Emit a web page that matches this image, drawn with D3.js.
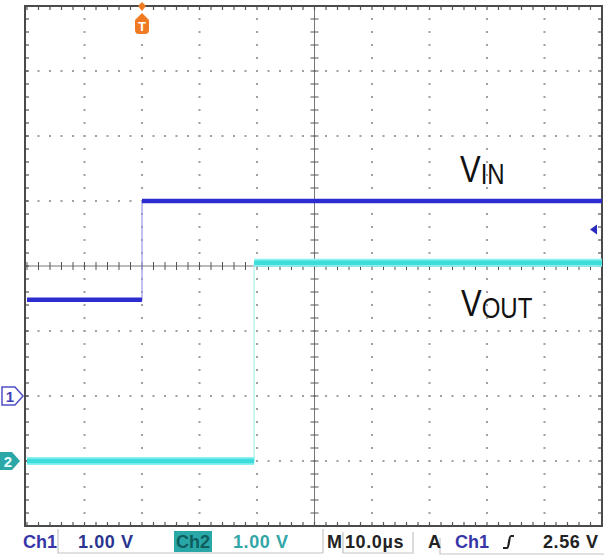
<!DOCTYPE html>
<html>
<head>
<meta charset="utf-8">
<script src="https://cdn.jsdelivr.net/npm/d3@7"></script>
<style>
  body { margin: 0; background: #fff; }
  svg { display: block; }
</style>
</head>
<body>
<div id="scope"></div>
<script>
// Scope settings
const timeDomainUs = [-20, 80];      // 10 us/div, trigger 2 div from left
const ch1Domain = [-2, 6];           // 1 V/div, Ch1 ground 2 div up
const ch2Domain = [-1, 7];           // 1 V/div, Ch2 ground 1 div up
const triggerLevel = 2.56;

// Ch1 = VIN (blue), Ch2 = VOUT (cyan)
const ch1Times = [-20, 0, 0, 80];
const ch1Volts = [1.48, 1.48, 3.0, 3.0];
const ch2Times = [-20, 19.5, 19.5, 80];
const ch2Volts = [0, 0, 3.05, 3.05];

// Status bar fields
const statusItems = [
  { text: 'Ch1', x: 23, color: '#3636a8' },
  { text: '1.00 V', x: 78, color: '#2a3590' },
  { text: 'Ch2', x: 176, color: '#0d5e5e' },
  { text: '1.00 V', x: 233, color: '#33a6a6' },
  { text: 'M', x: 327, color: '#222' },
  { text: '10.0µs', x: 345, color: '#222' },
  { text: 'A', x: 428, color: '#222' },
  { text: 'Ch1', x: 455, color: '#3636a8' },
  { text: '2.56 V', x: 543, color: '#222' }
];

const drawScope = () => {
  let width = 604;
  let height = 558;
  let plot = { left: 25, right: 602, top: 6, bottom: 526 };

  let svg = d3
    .select('#scope')
    .append('svg')
    .attr('width', width)
    .attr('height', height);

  let x = d3.scaleLinear().domain(timeDomainUs).range([27, plot.right]);
  let y1 = d3.scaleLinear().domain(ch1Domain).range([plot.bottom, plot.top]);
  let y2 = d3.scaleLinear().domain(ch2Domain).range([plot.bottom, plot.top]);

  let majorT = d3.range(timeDomainUs[0], timeDomainUs[1] + 0.01, 10);
  let minorT = d3.range(timeDomainUs[0], timeDomainUs[1] + 0.01, 2);
  let majorV = d3.range(ch1Domain[0], ch1Domain[1] + 0.01, 1);
  let minorV = d3.range(ch1Domain[0], ch1Domain[1] + 0.001, 0.2);

  let grid = svg.append('g').attr('class', 'grid');

  // Dotted graticule
  majorT.slice(1, -1).forEach((t) => {
    if (t === 30) return;
    grid
      .selectAll(null)
      .data(minorV)
      .enter()
      .append('rect')
      .attr('x', x(t) - 1)
      .attr('y', (v) => y1(v) - 1)
      .attr('width', 2)
      .attr('height', 2)
      .attr('fill', '#a0a0a0');
  });
  majorV.slice(1, -1).forEach((v) => {
    if (v === 2) return;
    grid
      .selectAll(null)
      .data(minorT)
      .enter()
      .append('rect')
      .attr('x', (t) => x(t) - 1)
      .attr('y', y1(v) - 1)
      .attr('width', 2)
      .attr('height', 2)
      .attr('fill', '#a0a0a0');
  });

  // Center crosshair with ticks
  let cx = x(30);
  let cy = y1(2);
  grid.append('line')
    .attr('x1', plot.left).attr('x2', plot.right)
    .attr('y1', cy).attr('y2', cy)
    .attr('stroke', '#777').attr('stroke-width', 1);
  grid.append('line')
    .attr('x1', cx).attr('x2', cx)
    .attr('y1', plot.top).attr('y2', plot.bottom)
    .attr('stroke', '#777').attr('stroke-width', 1);
  grid.selectAll('.hc-tick')
    .data(minorT)
    .enter()
    .append('line')
    .attr('x1', (t) => x(t)).attr('x2', (t) => x(t))
    .attr('y1', cy - 4).attr('y2', cy + 4)
    .attr('stroke', '#555');
  grid.selectAll('.vc-tick')
    .data(minorV)
    .enter()
    .append('line')
    .attr('y1', (v) => y1(v)).attr('y2', (v) => y1(v))
    .attr('x1', cx - 4).attr('x2', cx + 4)
    .attr('stroke', '#555');

  // Border ticks
  let tickG = svg.append('g').attr('stroke', '#555').attr('stroke-width', 1.2);
  minorT.forEach((t) => {
    tickG.append('line').attr('x1', x(t)).attr('x2', x(t)).attr('y1', plot.top).attr('y2', plot.top + 4);
    tickG.append('line').attr('x1', x(t)).attr('x2', x(t)).attr('y1', plot.bottom).attr('y2', plot.bottom - 4);
  });
  minorV.forEach((v) => {
    tickG.append('line').attr('y1', y1(v)).attr('y2', y1(v)).attr('x1', plot.left).attr('x2', plot.left + 4);
    tickG.append('line').attr('y1', y1(v)).attr('y2', y1(v)).attr('x1', plot.right).attr('x2', plot.right - 4);
  });

  svg.append('rect')
    .attr('x', plot.left)
    .attr('y', plot.top)
    .attr('width', plot.right - plot.left)
    .attr('height', plot.bottom - plot.top)
    .attr('fill', 'none')
    .attr('stroke', '#4a4a4a')
    .attr('stroke-width', 2);

  // Traces
  let ch1 = ch1Times.map((t, i) => ({ t: t, v: ch1Volts[i] }));
  let ch2 = ch2Times.map((t, i) => ({ t: t, v: ch2Volts[i] }));

  let line1 = d3.line().x((d) => x(d.t)).y((d) => y1(d.v));
  let line2 = d3.line().x((d) => x(d.t)).y((d) => y2(d.v));

  function levels(data) {
    let segs = [];
    for (let i = 1; i < data.length; i++) {
      if (data[i].v === data[i - 1].v) segs.push([data[i - 1], data[i]]);
    }
    return segs;
  }

  // Ch2 (cyan)
  svg.append('path')
    .attr('d', line2(ch2))
    .attr('fill', 'none')
    .attr('stroke', '#aef0f0')
    .attr('stroke-width', 1.2);
  svg.selectAll('.ch2-level')
    .data(levels(ch2))
    .enter()
    .append('path')
    .attr('d', (d) => line2(d))
    .attr('fill', 'none')
    .attr('stroke', '#8af0f0')
    .attr('stroke-width', 8);
  svg.selectAll('.ch2-core')
    .data(levels(ch2))
    .enter()
    .append('path')
    .attr('d', (d) => line2(d))
    .attr('fill', 'none')
    .attr('stroke', '#3fdcdc')
    .attr('stroke-width', 4.5);

  // Ch1 (blue)
  svg.append('path')
    .attr('d', line1(ch1))
    .attr('fill', 'none')
    .attr('stroke', '#9a9ae6')
    .attr('stroke-width', 1.2);
  svg.selectAll('.ch1-level')
    .data(levels(ch1))
    .enter()
    .append('path')
    .attr('d', (d) => line1(d))
    .attr('fill', 'none')
    .attr('stroke', '#2c2cd0')
    .attr('stroke-width', 4.5);

  // Trigger position marker
  let tx = x(0);
  let trig = svg.append('g').attr('fill', '#f07a22');
  trig.append('path')
    .attr('d', `M${tx - 4},${plot.top} L${tx},${plot.top - 4} L${tx + 4},${plot.top} L${tx},${plot.top + 5} Z`);
  trig.append('path')
    .attr('d', `M${tx - 7},${20} L${tx},${13} L${tx + 7},${20} L${tx + 7},${30} Q${tx + 7},${34} ${tx + 3},${34} L${tx - 3},${34} Q${tx - 7},${34} ${tx - 7},${30} Z`);
  svg.append('text')
    .attr('x', tx)
    .attr('y', 31)
    .attr('text-anchor', 'middle')
    .attr('font-family', 'Liberation Sans, Arial, sans-serif')
    .attr('font-weight', 'bold')
    .attr('font-size', '13px')
    .attr('fill', '#fff')
    .text('T');

  // Trigger level marker
  let ty = y1(triggerLevel);
  svg.append('path')
    .attr('d', `M${plot.right - 12},${ty} L${plot.right - 5},${ty - 5} L${plot.right - 5},${ty + 5} Z`)
    .attr('fill', '#2c2cc0');

  // Ground markers
  let g1 = y1(0);
  svg.append('path')
    .attr('d', `M2,${g1 - 9} L15,${g1 - 9} L23,${g1} L15,${g1 + 9} L2,${g1 + 9} Z`)
    .attr('fill', '#fff')
    .attr('stroke', '#5050c8')
    .attr('stroke-width', 1.5);
  svg.append('text')
    .attr('x', 10)
    .attr('y', g1 + 6)
    .attr('text-anchor', 'middle')
    .attr('font-family', 'Liberation Sans, Arial, sans-serif')
    .attr('font-weight', 'bold')
    .attr('font-size', '15px')
    .attr('fill', '#4040b8')
    .text('1');

  let g2 = y2(0);
  svg.append('path')
    .attr('d', `M0,${g2 - 9} L12,${g2 - 9} L20,${g2} L12,${g2 + 9} L0,${g2 + 9} Z`)
    .attr('fill', '#2aa8a8');
  svg.append('text')
    .attr('x', 8)
    .attr('y', g2 + 6)
    .attr('text-anchor', 'middle')
    .attr('font-family', 'Liberation Sans, Arial, sans-serif')
    .attr('font-weight', 'bold')
    .attr('font-size', '15px')
    .attr('fill', '#e8ffff')
    .text('2');

  // Signal labels
  function signalLabel(main, sub, px, py) {
    let t = svg.append('g')
      .attr('transform', `translate(${px}, ${py}) scale(1, 1.22)`)
      .append('text')
      .attr('font-family', 'Liberation Sans, Arial, sans-serif')
      .attr('fill', '#111');
    t.append('tspan').attr('font-size', '31px').text(main);
    t.append('tspan').attr('font-size', '24px').attr('dy', 2).text(sub);
  }
  signalLabel('V', 'IN', 460, 182);
  signalLabel('V', 'OUT', 461, 316);

  // Status bar boxes
  let bar = svg.append('g').attr('stroke', '#c4c4c4').attr('stroke-width', 1.2).attr('fill', 'none');
  bar.append('path').attr('d', 'M58,529 L58,553 L323,553');
  bar.append('path').attr('d', 'M323,529 L323,553');
  bar.append('path').attr('d', 'M343,532 L343,553 L413,553 L413,532');
  bar.append('path').attr('d', 'M440,538 L440,554 L604,554');

  svg.append('rect')
    .attr('x', 174)
    .attr('y', 531)
    .attr('width', 38)
    .attr('height', 21)
    .attr('fill', '#2aa8a8');

  svg.selectAll('.status')
    .data(statusItems)
    .enter()
    .append('text')
    .attr('x', (d) => d.x)
    .attr('y', 548)
    .attr('font-family', 'Liberation Sans, Arial, sans-serif')
    .attr('font-weight', 'bold')
    .attr('font-size', '18px')
    .attr('letter-spacing', (d) => (d.text.length > 3 ? '0.6px' : '0px'))
    .attr('fill', (d) => d.color)
    .text((d) => d.text);

  // Rising-edge slope symbol
  svg.append('path')
    .attr('d', 'M503,548 L507,548 C509,548 509,536 511,536 L514,536')
    .attr('fill', 'none')
    .attr('stroke', '#222')
    .attr('stroke-width', 2.2);
};

drawScope();
</script>
</body>
</html>
